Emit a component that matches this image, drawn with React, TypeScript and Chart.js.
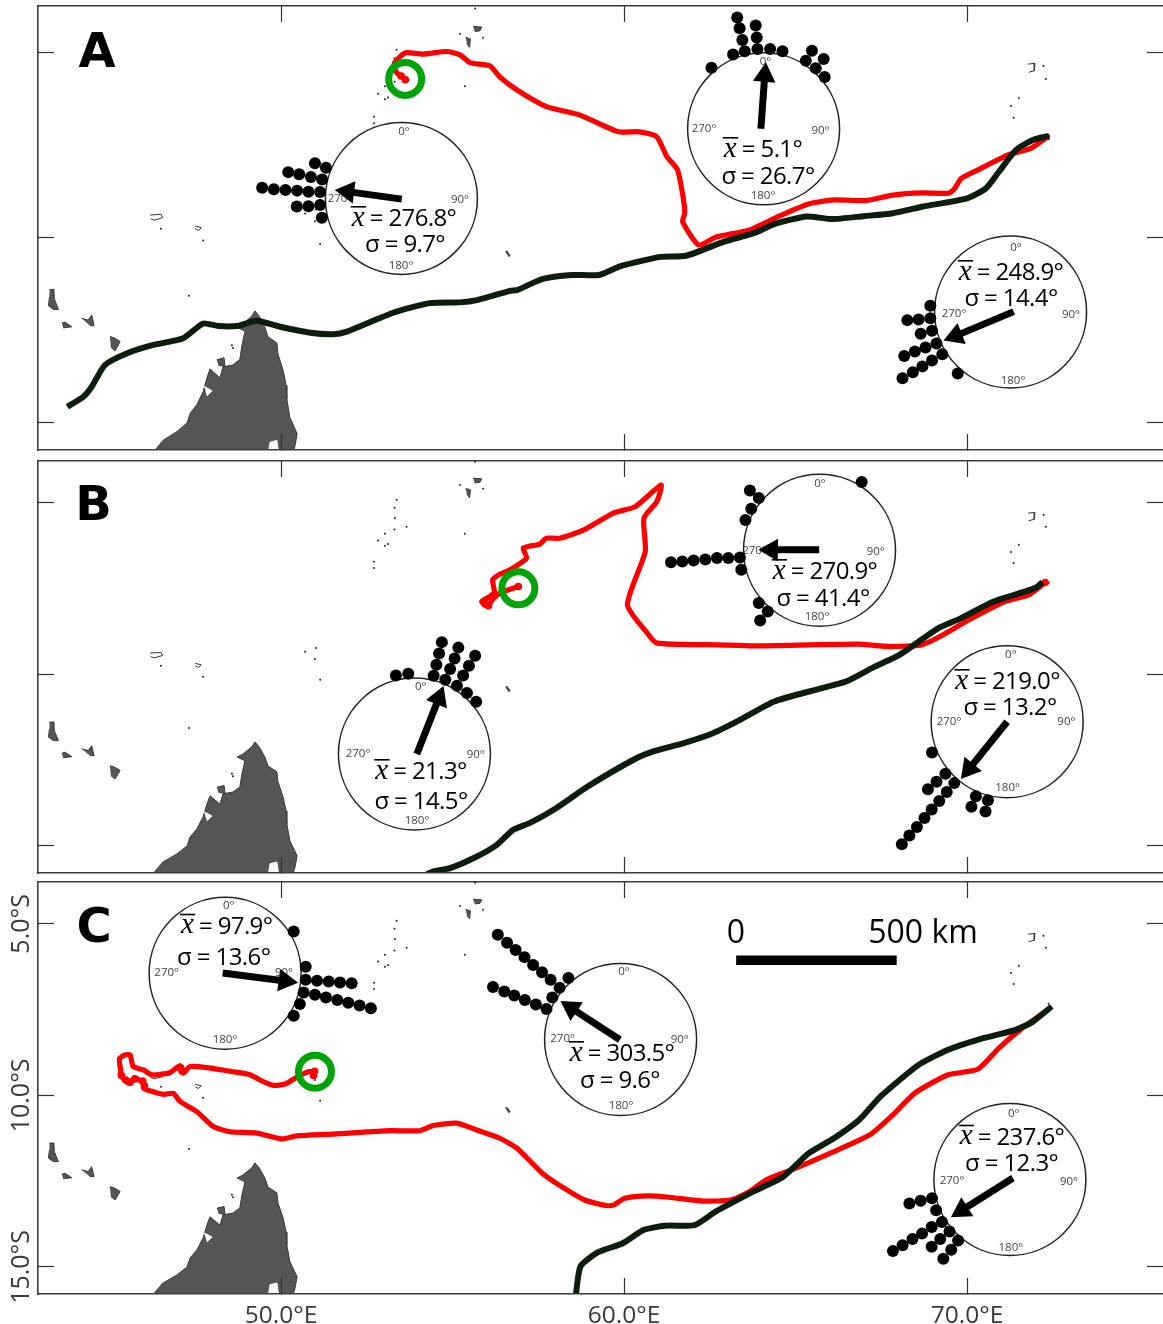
import React, { useEffect, useRef } from "react";
import { Chart, registerables } from "chart.js";

Chart.register(...registerables);

type P = [number, number];

// ---------- tick values ----------
const lonTicks = [50, 60, 70];
const latTicks = [-5, -10, -15];
const lonRange: P = [42.915, 75.714];

// ---------- land ----------
const madagascar: P[] = [[49.24,-11.97],[49.37,-12.12],[49.53,-12.41],[49.62,-12.67],[49.88,-12.84],[49.91,-13.13],[50.06,-13.57],[50.15,-13.98],[50.17,-14.36],[50.26,-14.85],[50.47,-15.29],[50.41,-15.61],[50.35,-15.82],[50.35,-16.55],[46.18,-16.55],[46.33,-15.73],[46.56,-15.47],[46.97,-15.23],[47.26,-15.0],[47.35,-14.74],[47.55,-14.5],[47.73,-14.15],[47.84,-13.78],[47.93,-13.54],[48.22,-13.78],[48.31,-13.48],[48.6,-13.43],[48.8,-13.28],[48.86,-12.9],[48.95,-12.52],[48.72,-12.41],[48.89,-12.32],[49.15,-12.11],[49.24,-11.97]];
const nosyBe: P[] = [[48.13,-13.29],[48.34,-13.24],[48.37,-13.48],[48.17,-13.43]];
const grandeComore: P[] = [[43.25,-11.39],[43.38,-11.39],[43.39,-11.64],[43.51,-11.93],[43.36,-11.93],[43.22,-11.83],[43.25,-11.59]];
const moheli: P[] = [[43.61,-12.30],[43.70,-12.27],[43.9,-12.40],[43.65,-12.43]];
const anjouan: P[] = [[44.19,-12.17],[44.38,-12.22],[44.48,-12.08],[44.55,-12.37],[44.43,-12.37]];
const mayotte: P[] = [[45.01,-12.66],[45.16,-12.71],[45.31,-12.80],[45.16,-13.05],[45.04,-12.95]];
const mahe: P[] = [[55.38,-4.58],[55.52,-4.62],[55.5,-4.85],[55.42,-4.75]];
const praslin: P[] = [[55.6,-4.28],[55.85,-4.3],[55.8,-4.4],[55.65,-4.42]];
const aldabra: P[] = [[46.18,-9.38],[46.5,-9.36],[46.55,-9.45],[46.3,-9.52],[46.2,-9.48]];
const cosmoledo: P[] = [[47.5,-9.68],[47.67,-9.72],[47.6,-9.8],[47.5,-9.75]];
const chagosBank: P[] = [[71.78,-5.3],[71.98,-5.28],[71.96,-5.48],[71.8,-5.52]];
const agalega: P[] = [[56.58,-10.34],[56.68,-10.48],[56.64,-10.5],[56.55,-10.36]];
const malagasyLake: P[] = [[49.62,-15.9],[49.68,-15.52],[49.88,-15.47],[49.94,-15.9]];
const westBay: P[] = [[47.76,-14.01],[47.99,-14.13],[47.84,-14.27]];
const specks: P[] = [[46.5,-9.75],[47.73,-10.07],[51.14,-10.16],[47.32,-11.56],[55.22,-4.48],[55.66,-3.8],[55.89,-4.59],[53.37,-4.91],[53.31,-5.14],[53.32,-5.44],[53.66,-5.7],[53.31,-5.78],[53.03,-5.9],[52.83,-6.1],[53.12,-6.2],[53.03,-6.25],[55.36,-5.9],[52.71,-6.72],[52.71,-6.9],[50.7,-9.34],[51.02,-9.23],[50.99,-9.55],[72.23,-5.35],[72.3,-5.7],[71.51,-6.22],[71.28,-6.43],[71.36,-6.75],[72.38,-7.33],[48.57,-12.9],[48.6,-12.97]];

// ---------- tracks: panel A ----------
const greenTrackA: P[] = [[43.77,-14.56],[44.24,-14.29],[44.48,-14.02],[44.87,-13.43],[45.55,-13.10],[46.28,-12.89],[47.15,-12.71],[47.73,-12.31],[48.17,-12.38],[48.71,-12.38],[49.29,-12.24],[49.97,-12.40],[50.85,-12.56],[51.52,-12.60],[51.92,-12.53],[53.27,-12.02],[54.34,-11.76],[55.22,-11.74],[55.71,-11.68],[56.68,-11.43],[56.88,-11.41],[57.61,-11.11],[58.48,-11.0],[59.27,-11.0],[59.9,-10.76],[61.07,-10.51],[61.81,-10.48],[62.92,-10.10],[63.78,-9.87],[64.4,-9.62],[65.32,-9.42],[66.06,-9.49],[66.99,-9.41],[67.84,-9.33],[68.72,-9.15],[70.0,-8.93],[70.55,-8.66],[70.93,-8.21],[71.43,-7.62],[71.92,-7.35],[72.39,-7.24]];
const redTrackA: P[] = [[53.66,-5.73],[53.37,-5.53],[53.3,-5.3],[53.47,-5.10],[53.66,-4.99],[54.14,-5.03],[54.83,-4.96],[55.22,-5.05],[55.51,-5.26],[56.09,-5.35],[56.38,-5.65],[56.88,-6.0],[57.74,-6.45],[58.72,-6.68],[59.83,-7.13],[60.45,-7.13],[60.95,-7.26],[61.25,-7.80],[61.56,-8.16],[61.72,-8.88],[61.77,-9.33],[61.71,-9.56],[62.18,-10.19],[62.67,-9.98],[63.66,-9.78],[64.52,-9.41],[65.38,-9.08],[66.12,-8.97],[67.05,-8.99],[67.84,-8.84],[68.72,-8.78],[69.45,-8.79],[69.64,-8.66],[69.83,-8.39],[70.32,-8.16],[71.18,-7.76],[71.86,-7.58],[72.35,-7.26]];
const blobsA: P[] = [[53.62,-5.72],[53.5,-5.62]];

// ---------- tracks: panel B ----------
const greenTrackB: P[] = [[54.1,-15.9],[54.43,-15.75],[54.93,-15.65],[55.71,-15.31],[56.29,-14.97],[56.77,-14.53],[57.26,-14.33],[58.02,-13.90],[58.94,-13.27],[60.33,-12.46],[60.9,-12.23],[61.72,-12.01],[62.54,-11.74],[63.34,-11.35],[64.38,-10.79],[65.66,-10.43],[66.47,-10.21],[67.28,-9.79],[68.03,-9.43],[68.67,-8.99],[69.19,-8.64],[69.83,-8.36],[70.76,-7.88],[71.68,-7.59],[72.03,-7.46],[72.20,-7.31]];
const redTrackB: P[] = [[56.92,-7.44],[56.38,-7.63],[56.14,-7.85],[56.04,-8.02],[55.85,-7.88],[56.09,-7.73],[56.22,-7.59],[56.17,-7.24],[56.38,-7.08],[56.68,-6.95],[57.16,-6.61],[57.06,-6.32],[57.55,-6.20],[57.73,-6.03],[58.13,-6.03],[58.83,-5.79],[59.69,-5.30],[60.33,-5.11],[61.08,-4.48],[60.96,-4.96],[60.58,-5.45],[60.62,-6.42],[60.10,-7.97],[60.68,-8.80],[60.96,-9.09],[62.76,-9.14],[63.80,-9.17],[66.82,-9.12],[67.74,-9.19],[68.67,-9.14],[69.13,-8.94],[70.06,-8.41],[71.10,-7.88],[71.80,-7.68],[72.26,-7.34]];
const blobsB: P[] = [[55.95,-7.95],[56.05,-8.0],[56.92,-7.44],[72.28,-7.32]];

// ---------- tracks: panel C ----------
const greenTrackC: P[] = [[58.58,-15.96],[58.73,-14.99],[59.21,-14.59],[59.96,-14.31],[60.58,-13.92],[61.20,-13.80],[62.06,-13.78],[62.67,-13.39],[63.78,-12.80],[64.64,-12.37],[65.38,-11.69],[66.12,-11.25],[66.86,-10.71],[67.48,-10.03],[68.59,-9.11],[69.45,-8.67],[70.31,-8.38],[71.42,-8.09],[71.92,-7.85],[72.47,-7.41]];
const redTrackC: P[] = [[50.99,-9.31],[50.79,-9.31],[50.41,-9.50],[50.12,-9.67],[49.78,-9.71],[49.48,-9.60],[49.10,-9.40],[48.61,-9.31],[47.83,-9.19],[47.35,-9.16],[47.15,-9.35],[47.06,-9.13],[46.76,-9.34],[46.23,-9.40],[45.99,-9.26],[45.69,-9.16],[45.60,-8.82],[45.45,-8.82],[45.29,-8.94],[45.33,-9.31],[45.31,-9.40],[45.55,-9.64],[45.74,-9.50],[45.99,-9.64],[45.99,-9.79],[46.57,-9.97],[46.86,-9.94],[47.06,-10.18],[47.54,-10.47],[48.03,-10.91],[48.51,-11.06],[49.29,-11.10],[50.02,-11.27],[50.46,-11.18],[51.52,-11.13],[53.18,-11.03],[54.05,-11.03],[54.44,-10.88],[55.12,-10.81],[55.71,-11.01],[56.38,-11.25],[56.88,-11.54],[57.62,-12.27],[58.10,-12.61],[58.85,-13.05],[59.47,-13.21],[59.71,-13.19],[60.02,-13.0],[60.70,-12.93],[61.31,-12.97],[62.30,-13.08],[63.10,-13.05],[63.66,-12.80],[64.15,-12.46],[65.01,-12.12],[66.0,-11.69],[67.17,-11.15],[67.84,-10.57],[68.47,-9.94],[69.45,-9.40],[70.31,-9.24],[70.93,-8.62],[71.55,-8.09],[72.41,-7.46]];
const blobsC: P[] = [[45.35,-9.42],[45.47,-9.55],[45.6,-9.62],[45.74,-9.52],[45.97,-9.58],[46.02,-9.72],[47.08,-9.2],[47.12,-9.3],[50.98,-9.3],[50.95,-9.42]];

// ---------- release sites ----------
const releaseA: P[] = [[53.62,-5.70]];
const releaseB: P[] = [[56.92,-7.49]];
const releaseC: P[] = [[50.99,-9.31]];

// ---------- circular plot dots ----------
const dotsA1: P[] = [[50.99,-7.98],[51.31,-8.10],[50.21,-8.22],[50.53,-8.28],[50.87,-8.35],[51.20,-8.42],[49.45,-8.64],[49.79,-8.68],[50.13,-8.70],[50.47,-8.72],[50.80,-8.75],[51.14,-8.76],[50.46,-9.15],[50.80,-9.14],[51.14,-9.11],[51.19,-9.45]];
const dotsA2: P[] = [[63.30,-4.04],[63.37,-4.33],[63.45,-4.65],[63.84,-4.26],[63.87,-4.58],[63.18,-5.04],[63.52,-4.95],[63.89,-4.89],[64.26,-4.89],[64.62,-4.95],[65.48,-4.94],[65.82,-5.16],[65.30,-5.21],[65.59,-5.41],[65.85,-5.65],[62.55,-5.40]];
const dotsA3: P[] = [[68.93,-11.83],[68.93,-12.17],[68.59,-12.20],[68.26,-12.22],[68.98,-12.51],[68.65,-12.59],[69.11,-12.85],[68.79,-12.96],[68.48,-13.07],[68.17,-13.19],[69.28,-13.14],[68.98,-13.31],[68.70,-13.47],[68.42,-13.63],[68.12,-13.79],[69.73,-13.66]];
const dotsB1: P[] = [[66.93,-4.39],[63.67,-4.64],[63.93,-4.86],[63.71,-5.17],[63.54,-5.50],[61.37,-6.73],[61.70,-6.71],[62.03,-6.68],[62.37,-6.65],[62.71,-6.61],[63.04,-6.61],[63.38,-6.59],[63.42,-6.95],[63.93,-7.92],[64.19,-8.17],[63.97,-8.43]];
const dotsB2: P[] = [[53.35,-10.03],[53.71,-9.98],[54.69,-9.06],[55.17,-9.22],[55.66,-9.46],[54.61,-9.39],[55.06,-9.54],[55.48,-9.75],[54.53,-9.72],[54.93,-9.84],[55.31,-10.03],[54.45,-10.04],[54.79,-10.16],[55.13,-10.33],[55.42,-10.54],[55.69,-10.80]];
const dotsB3: P[] = [[68.98,-12.28],[69.37,-12.90],[69.11,-13.13],[68.86,-13.35],[69.63,-13.17],[69.41,-13.43],[69.19,-13.69],[68.97,-13.94],[68.76,-14.19],[68.54,-14.45],[68.32,-14.70],[68.10,-14.95],[70.26,-13.55],[70.61,-13.67],[70.13,-13.86],[70.54,-14.0]];
const dotsC1: P[] = [[50.37,-5.22],[50.72,-6.25],[50.72,-6.63],[51.05,-6.66],[51.39,-6.68],[51.72,-6.71],[52.06,-6.73],[50.66,-7.0],[50.99,-7.07],[51.31,-7.15],[51.64,-7.22],[51.96,-7.30],[52.29,-7.38],[52.62,-7.46],[50.55,-7.34],[50.37,-7.68]];
const dotsC2: P[] = [[56.32,-5.32],[56.59,-5.55],[56.84,-5.76],[57.10,-5.97],[57.35,-6.20],[57.61,-6.41],[57.86,-6.63],[58.12,-6.86],[58.38,-6.58],[57.91,-7.15],[56.18,-6.84],[56.51,-6.97],[56.80,-7.09],[57.11,-7.22],[57.43,-7.35],[57.74,-7.48]];
const dotsC3: P[] = [[68.98,-13.0],[68.65,-13.07],[68.32,-13.15],[69.10,-13.35],[69.27,-13.69],[68.97,-13.84],[68.69,-14.03],[68.41,-14.19],[68.12,-14.37],[67.84,-14.54],[69.49,-13.97],[69.74,-14.23],[69.22,-14.19],[68.97,-14.41],[69.54,-14.50],[69.31,-14.76]];

// ---------- circle centres, mean arrows ----------
const centresA: P[] = [[53.51,-8.93],[64.07,-7.05],[71.27,-12.0]];
const centresB: P[] = [[65.70,-6.38],[53.89,-12.32],[71.17,-11.38]];
const centresC: P[] = [[48.37,-6.44],[59.90,-8.37],[71.25,-12.45]];
const meansA = [276.8, 5.1, 248.9];
const meansB = [270.9, 21.3, 219.0];
const meansC = [97.9, 303.5, 237.6];
const sigmasA = [9.7, 26.7, 14.4];
const sigmasB = [41.4, 14.5, 13.2];
const sigmasC = [13.6, 9.6, 12.3];
const arrowsA: [P, P][] = [[[53.52,-8.95],[51.57,-8.70]],[[63.99,-7.05],[64.13,-5.26]],[[71.36,-11.99],[69.27,-12.80]]];
const arrowsB: [P, P][] = [[[65.69,-6.37],[63.97,-6.37]],[[53.96,-12.32],[54.75,-10.31]],[[71.17,-11.38],[69.80,-13.08]]];
const arrowsC: [P, P][] = [[[48.30,-6.43],[50.55,-6.72]],[[59.88,-8.38],[58.13,-7.24]],[[71.34,-12.41],[69.50,-13.57]]];
const scaleBar: P[] = [[63.27,-6.06],[67.95,-6.06]];

// ---------- text layout (page pixels) ----------
type Circ = { deg: P[]; s1: P; s2: P };
const degLabels = ["0°", "90°", "180°", "270°"];
const textA: Circ[] = [
  { deg: [[404,132],[460,200],[401,266],[340,199]], s1: [404,219], s2: [405,245] },
  { deg: [[765.5,62],[820.5,131],[763,196],[704,129]], s1: [763,150], s2: [768,177] },
  { deg: [[1016,248],[1071,315],[1013,381],[954,314]], s1: [1011,273], s2: [1011,299] },
];
const textB: Circ[] = [
  { deg: [[820,484],[875.7,551.7],[817,617],[754.5,551]], s1: [825,572], s2: [823,599] },
  { deg: [[420.7,687],[475.7,755],[417,821],[358,754]], s1: [421,772], s2: [421,802] },
  { deg: [[1010.8,655],[1066.4,721.7],[1007.6,788],[949,721.7]], s1: [1007.6,682], s2: [1010,708] },
];
const textC: Circ[] = [
  { deg: [[228.7,906],[284,973],[225,1040],[166.7,973]], s1: [226.7,926.7], s2: [223.7,957.7] },
  { deg: [[624,972],[679.7,1039.7],[621,1105.7],[562.6,1039]], s1: [622,1054], s2: [620,1081] },
  { deg: [[1013.7,1113.7],[1069,1181.7],[1010.8,1247.7],[952,1181]], s1: [1012,1137.7], s2: [1011.6,1164] },
];

const pts = (a: P[]) => a.map(([x, y]) => ({ x, y }));
const fmt = (v: number) => v.toFixed(1);

const RED = "#ff0000";
const DARK = "#0c1d0e";
const LAND = "#555555";
const LAND_EDGE = "#3a3a3a";

function landSets() {
  const poly = (a: P[], fill = LAND, edge = LAND_EDGE) => ({
    type: "line", data: pts(a), fill: "shape", backgroundColor: fill, borderColor: edge, borderWidth: 1, pointRadius: 0, tension: 0,
  });
  return [
    poly(madagascar), poly(malagasyLake, "#ffffff", "#ffffff"), poly(westBay, "#ffffff", "#ffffff"), poly(nosyBe),
    poly(grandeComore), poly(moheli), poly(anjouan), poly(mayotte), poly(mahe), poly(praslin), poly(agalega),
    poly(aldabra, "#ffffff", "#333333"), poly(cosmoledo, "#ffffff", "#333333"), poly(chagosBank, "#ffffff", "#333333"),
    { type: "line", data: pts(specks), showLine: false, pointRadius: 1, pointBorderWidth: 0, pointBackgroundColor: "#222222" },
  ];
}

function circleSets(centres: P[], dots: P[][], arrows: [P, P][], means: number[]) {
  const out: any[] = [];
  centres.forEach((c, i) => {
    out.push({
      type: "line", data: pts([c]), showLine: false, pointRadius: 76, pointBorderWidth: 1.5,
      pointBackgroundColor: "rgba(0,0,0,0)", pointBorderColor: "#222222", clip: false,
    });
    out.push({ type: "line", data: pts(dots[i]), showLine: false, pointRadius: 6, pointBorderWidth: 0, pointBackgroundColor: "#000000" });
    const [tail, tip] = arrows[i];
    const neck: P = [tail[0] + (tip[0] - tail[0]) * 0.81, tail[1] + (tip[1] - tail[1]) * 0.81];
    out.push({
      type: "line", data: pts([tail, neck]), borderColor: "#000000", borderWidth: 7, tension: 0,
      pointRadius: [0, 13], pointStyle: "triangle", pointRotation: means[i], pointBorderWidth: 0, pointBackgroundColor: "#000000",
    });
  });
  return out;
}

type Panel = {
  top: number; height: number; plotH: number; latMax: number; latMin: number; letter: string; letterX: number; letterY: number;
  red: P[]; blobs: P[]; green: P[]; release: P[]; centres: P[]; dots: P[][]; arrows: [P, P][]; means: number[]; sigmas: number[]; text: Circ[];
  lonLabels: boolean; latLabels: boolean; bar: boolean;
};

const panels: Panel[] = [
  { top: 0, height: 455, plotH: 444, latMax: -3.73, latMin: -15.73, letter: "A", letterX: 97, letterY: 67, red: redTrackA, blobs: blobsA, green: greenTrackA, release: releaseA, centres: centresA, dots: [dotsA1, dotsA2, dotsA3], arrows: arrowsA, means: meansA, sigmas: sigmasA, text: textA, lonLabels: false, latLabels: false, bar: false },
  { top: 455, height: 422, plotH: 412, latMax: -3.78, latMin: -15.79, letter: "B", letterX: 93.5, letterY: 520, red: redTrackB, blobs: blobsB, green: greenTrackB, release: releaseB, centres: centresB, dots: [dotsB1, dotsB2, dotsB3], arrows: arrowsB, means: meansB, sigmas: sigmasB, text: textB, lonLabels: false, latLabels: false, bar: false },
  { top: 876, height: 448, plotH: 412, latMax: -3.78, latMin: -15.79, letter: "C", letterX: 94, letterY: 942, red: redTrackC, blobs: blobsC, green: greenTrackC, release: releaseC, centres: centresC, dots: [dotsC1, dotsC2, dotsC3], arrows: arrowsC, means: meansC, sigmas: sigmasC, text: textC, lonLabels: true, latLabels: true, bar: true },
];

const AXIS = "#3c3c3c";
const W = 1163;
const TOP_PAD = 6;

function axis(p: Panel, kind: "x" | "y", pos: string, labels: boolean) {
  const vals = kind === "x" ? lonTicks : latTicks;
  const horizontal = kind === "x";
  return {
    type: "linear",
    position: pos,
    bounds: "data",
    min: horizontal ? lonRange[0] : p.latMin,
    max: horizontal ? lonRange[1] : p.latMax,
    afterBuildTicks: (s: any) => { s.ticks = vals.map((value) => ({ value })); },
    afterFit: (s: any) => {
      s.paddingLeft = s.paddingRight = s.paddingTop = s.paddingBottom = 0;
      if (horizontal) s.height = pos === "bottom" ? p.height - TOP_PAD - p.plotH : 0;
      else s.width = pos === "left" ? 38 : 0;
    },
    border: { display: pos !== "right", color: AXIS, width: 1.6, z: 1 },
    grid: { drawOnChartArea: false, drawTicks: true, tickLength: -16, tickColor: "#333333", tickWidth: 1.2, z: 1 },
    ticks: horizontal
      ? { display: labels, autoSkip: false, maxRotation: 0, minRotation: 0, padding: 23, color: "#3a3a3a", font: { family: "Open Sans", size: 24.5 }, callback: (v: number) => `${fmt(v)}°E` }
      : { display: labels, autoSkip: false, minRotation: 90, maxRotation: 90, crossAlign: "center", padding: -5, color: "#3a3a3a", font: { family: "Open Sans", size: 25 }, callback: (v: number) => `${fmt(-v)}°S` },
  };
}

function makeChart(canvas: HTMLCanvasElement, p: Panel) {
  const painter: any[] = [
    ...landSets(),
    { type: "line", data: pts(p.red), borderColor: RED, borderWidth: 5.2, tension: 0.2, pointRadius: 0, borderJoinStyle: "round", borderCapStyle: "round" },
    { type: "line", data: pts(p.blobs), showLine: false, pointRadius: 3.8, pointBorderWidth: 0, pointBackgroundColor: RED },
    { type: "line", data: pts(p.green), borderColor: DARK, borderWidth: 6, tension: 0.2, pointRadius: 0, borderJoinStyle: "round" },
    { type: "line", data: pts(p.release), showLine: false, pointRadius: 16.5, pointBorderWidth: 7, pointBorderColor: "#00a308", pointBackgroundColor: "rgba(0,0,0,0)" },
    ...circleSets(p.centres, p.dots, p.arrows, p.means),
  ];
  if (p.bar) painter.push({ type: "line", data: pts(scaleBar), borderColor: "#000000", borderWidth: 9.5, pointRadius: 0, tension: 0 });

  const textPlugin = {
    id: "panelText",
    beforeDatasetsDraw(chart: any) {
      const ctx = chart.ctx;
      ctx.save();
      ctx.fillStyle = "#444444";
      ctx.font = '11.5px "Open Sans"';
      ctx.textAlign = "center";
      ctx.textBaseline = "middle";
      p.text.forEach((t) => t.deg.forEach(([x, y], i) => ctx.fillText(degLabels[i], x, y - p.top)));
      ctx.restore();
    },
    afterDatasetsDraw(chart: any) {
      const ctx = chart.ctx;
      ctx.save();
      ctx.fillStyle = "#000000";
      ctx.textBaseline = "middle";
      ctx.textAlign = "left";
      p.text.forEach((t, i) => {
        const rest = ` = ${fmt(p.means[i])}°`;
        const xFont = 'italic 29px "Liberation Serif"';
        const mainFont = '24px "Open Sans"';
        ctx.letterSpacing = "-0.6px";
        ctx.font = xFont;
        const wx = ctx.measureText("x").width;
        ctx.font = mainFont;
        const wr = ctx.measureText(rest).width;
        const x0 = t.s1[0] - (wx + wr) / 2;
        const y1 = t.s1[1] - p.top;
        ctx.font = xFont;
        ctx.fillText("x", x0, y1 - 1);
        ctx.fillRect(x0 - 1, y1 - 13, wx + 3, 1.6);
        ctx.font = mainFont;
        ctx.fillText(rest, x0 + wx, y1);
        ctx.textAlign = "center";
        ctx.fillText(`σ = ${fmt(p.sigmas[i])}°`, t.s2[0], t.s2[1] - p.top);
        ctx.textAlign = "left";
      });
      ctx.letterSpacing = "0px";
      ctx.textAlign = "center";
      ctx.textBaseline = "alphabetic";
      ctx.font = 'bold 48px "DejaVu Sans"';
      ctx.fillText(p.letter, p.letterX, p.letterY - p.top);
      if (p.bar) {
        ctx.textBaseline = "middle";
        ctx.font = '32px "Open Sans"';
        ctx.fillText("0", 736, 934 - p.top);
        ctx.fillText("500 km", 923, 934 - p.top);
      }
      ctx.restore();
    },
  };

  return new Chart(canvas, {
    type: "line",
    data: { datasets: painter.reverse() },
    plugins: [textPlugin],
    options: {
      responsive: false,
      animation: false,
      events: [],
      layout: { autoPadding: false, padding: { top: TOP_PAD, left: 0, right: 0, bottom: 0 } },
      plugins: { legend: { display: false }, tooltip: { enabled: false } },
      scales: {
        x: axis(p, "x", "bottom", p.lonLabels),
        x2: axis(p, "x", "top", false),
        y: axis(p, "y", "left", p.latLabels),
        y2: axis(p, "y", "right", false),
      },
    },
  } as any);
}

export default function App() {
  const refs = useRef<(HTMLCanvasElement | null)[]>([]);
  useEffect(() => {
    const charts = panels.map((p, i) => makeChart(refs.current[i]!, p));
    return () => charts.forEach((c) => c.destroy());
  }, []);
  return (
    <div style={{ position: "absolute", left: 0, top: 0, width: W, height: 1324, background: "#ffffff", overflow: "hidden" }}>
      {panels.map((p, i) => (
        <canvas
          key={p.letter}
          ref={(el) => { refs.current[i] = el; }}
          width={W}
          height={p.height}
          style={{ position: "absolute", left: 0, top: p.top, width: W, height: p.height }}
        />
      ))}
    </div>
  );
}
